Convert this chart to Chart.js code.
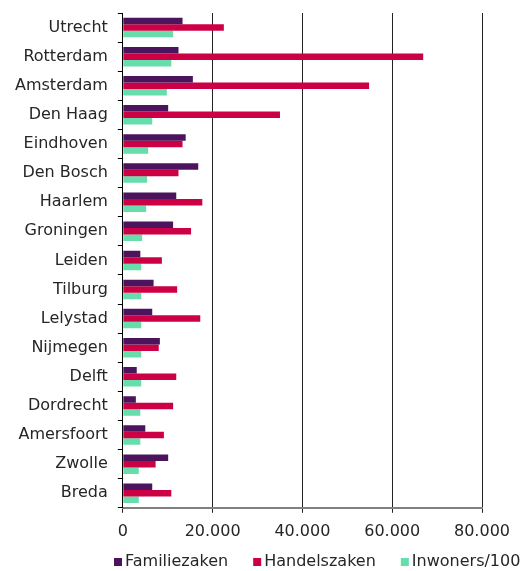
<!DOCTYPE html>
<html>
<head>
<meta charset="utf-8">
<title>Zaken per stad</title>
<script src="https://cdn.jsdelivr.net/npm/chart.js@4.4.1/dist/chart.umd.min.js"></script>
<style>
  body { margin: 0; background: #fff; }
  .chart-box { position: relative; width: 532px; height: 571px; }
</style>
</head>
<body>
<div class="chart-box"><canvas id="zakenChart"></canvas></div>
<script>
const cities = ['Utrecht', 'Rotterdam', 'Amsterdam', 'Den Haag', 'Eindhoven', 'Den Bosch', 'Haarlem', 'Groningen',
    'Leiden', 'Tilburg', 'Lelystad', 'Nijmegen', 'Delft', 'Dordrecht', 'Amersfoort', 'Zwolle', 'Breda'];
const familiezaken = [13300, 12400, 15600, 10100, 14000, 16800, 11900, 11200, 3900, 6850, 6550, 8250, 3100, 2900, 5000, 10100, 6550];
const handelszaken = [22500, 66900, 54850, 35000, 13300, 12400, 17700, 15200, 8700, 12100, 17250, 8000, 11900, 11200, 9150, 7300, 10800];
const inwoners = [11200, 10800, 9800, 6550, 5650, 5400, 5200, 4300, 4100, 4100, 4100, 4100, 4100, 3900, 3900, 3550, 3550];
const xTicks = [0, 20000, 40000, 60000, 80000];

const labelFont = { family: 'DejaVu Sans', size: 16 };
const textColor = '#262626';

// thousands with a dot, like 20.000
function formatNumber(v) {
    return String(v).replace(/\B(?=(\d{3})+(?!\d))/g, '.');
}

// legend drawn by hand so it can sit left-shifted like the original
const bottomLegend = {
    id: 'bottomLegend',
    afterDraw(chart) {
        const ctx = chart.ctx;
        let x = 114;
        const y = 562;
        ctx.save();
        ctx.font = labelFont.size + 'px ' + labelFont.family;
        ctx.textBaseline = 'middle';
        chart.data.datasets.forEach(function(ds) {
            ctx.fillStyle = ds.backgroundColor;
            ctx.fillRect(x, y - 4, 8, 8);
            ctx.fillStyle = textColor;
            ctx.fillText(ds.label, x + 11, y);
            x += 11 + ctx.measureText(ds.label).width + 25;
        });
        ctx.restore();
    }
};

const ctx = document.getElementById('zakenChart').getContext('2d');
const zakenChart = new Chart(ctx, {
    type: 'bar',
    data: {
        labels: cities,
        datasets: [{
            label: 'Familiezaken',
            data: familiezaken,
            backgroundColor: '#4b145c'
        }, {
            label: 'Handelszaken',
            data: handelszaken,
            backgroundColor: '#cc0044'
        }, {
            label: 'Inwoners/100',
            data: inwoners,
            backgroundColor: '#66ddaa'
        }]
    },
    options: {
        indexAxis: 'y',
        responsive: true,
        maintainAspectRatio: false,
        animation: false,
        categoryPercentage: 0.67,
        barPercentage: 1.0,
        layout: {
            padding: { left: 5, top: 13, right: 50, bottom: 21 }
        },
        plugins: {
            legend: { display: false },
            tooltip: { enabled: false }
        },
        scales: {
            x: {
                min: 0,
                max: 80000,
                afterBuildTicks: function(scale) {
                    scale.ticks = xTicks.map(v => ({ value: v }));
                },
                ticks: {
                    color: textColor,
                    font: labelFont,
                    padding: 9,
                    maxRotation: 0,
                    callback: v => formatNumber(v)
                },
                grid: {
                    color: '#222',
                    lineWidth: 1,
                    tickLength: 5,
                    tickColor: '#222'
                },
                border: { color: '#808080', width: 2 }
            },
            y: {
                // labels sit mid-band, so no extra room needed above
                afterFit: function(scale) {
                    scale.paddingTop = 0;
                    scale.paddingBottom = 0;
                },
                ticks: {
                    color: textColor,
                    font: labelFont,
                    padding: 10
                },
                grid: {
                    drawOnChartArea: false,
                    tickLength: 5,
                    tickColor: '#000'
                },
                border: { color: '#000', width: 1 }
            }
        }
    },
    plugins: [bottomLegend]
});
</script>
</body>
</html>
